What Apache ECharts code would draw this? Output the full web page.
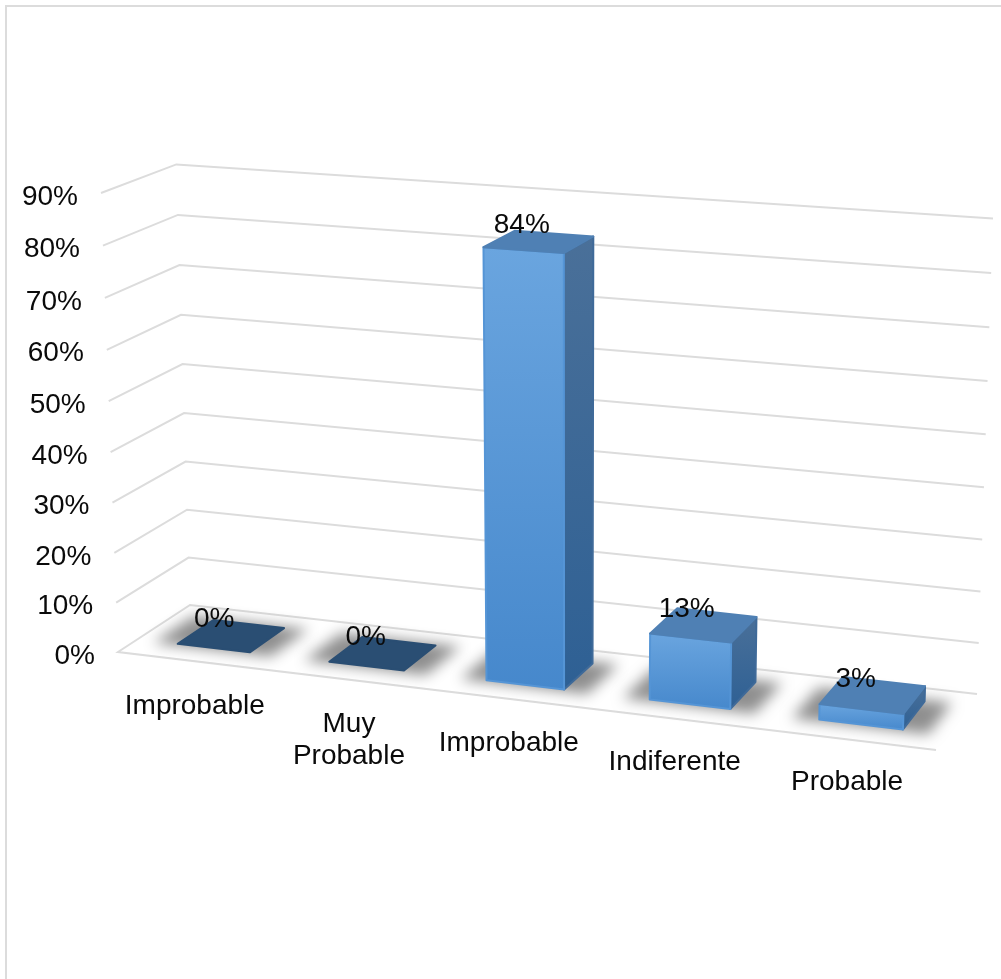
<!DOCTYPE html>
<html>
<head>
<meta charset="utf-8">
<style>html,body{margin:0;padding:0;background:#fff}#chart{width:1001px;height:979px}</style>
<script src="https://cdn.jsdelivr.net/npm/echarts@6/dist/echarts.min.js"></script>
</head>
<body>
<div id="chart"></div>
<script>
// Survey answers, percent of respondents
const categories = ['Improbable', 'Muy\nProbable', 'Improbable', 'Indiferente', 'Probable'];
const shares = [0, 0, 84, 13, 3];
const tickValues = [0, 10, 20, 30, 40, 50, 60, 70, 80, 90];

// Camera for the 3D box: floor quad [front-left, front-right, back-right, back-left],
// plus where the front-left and back-right corners land at the top of the value axis
const FLOOR = [[118, 652], [936, 750], [977, 694], [190, 605]];
const TOP_FRONT_LEFT = [101, 193];
const TOP_BACK_RIGHT_X = 993;
const RIGHT_SIDE_DROP = 5;

function buildCamera() {
  const [[x0, y0], [x1, y1], [x2, y2], [x3, y3]] = FLOOR;
  const dx1 = x1 - x2, dx2 = x3 - x2, dx3 = x0 - x1 + x2 - x3;
  const dy1 = y1 - y2, dy2 = y3 - y2, dy3 = y0 - y1 + y2 - y3;
  const den = dx1 * dy2 - dx2 * dy1;
  const g = (dx3 * dy2 - dx2 * dy3) / den;
  const h = (dx1 * dy3 - dx3 * dy1) / den;
  const a = x1 - x0 + g * x1, b = x3 - x0 + h * x3;
  const d = y1 - y0 + g * y1, e = y3 - y0 + h * y3;
  const [tx, ty] = TOP_FRONT_LEFT;
  const r = (a + b + tx - TOP_BACK_RIGHT_X * (g + h + 1)) / (TOP_BACK_RIGHT_X - tx);
  const p = tx * (1 + r) - x0, q = ty * (1 + r) - y0;
  return (u, w, t) => {
    const k = g * u + h * w + r * t + 1;
    return [(a * u + b * w + p * t + x0) / k, (d * u + e * w + q * t + y0) / k + RIGHT_SIDE_DROP * t * u];
  };
}
const project = buildCamera();

// Normalised position of a data point inside the hidden cartesian grid
function locate(params, api, category, value) {
  const r = params.coordSys;
  const c = api.coord([category, value]);
  return { u: (c[0] - r.x) / r.width, t: (r.y + r.height - c[1]) / r.height };
}

const TEXT_FONT = '28px "Liberation Sans", Arial, sans-serif';
const TEXT_COLOR = '#0a0a0a';
const BAR_HALF = 0.24;       // half bar width, as a share of the category band
const BAR_SHIFT = 0.002;
const BEVEL = 0.99;          // the rounded top edge stops just short of the full height
const DEPTH_NEAR = 0.265, DEPTH_FAR = 0.77;
const GRID_COLOR = '#dcdcdc';
const OFFSCREEN = 3000;      // only the blurred shadow of the floor patch reaches the canvas

function renderGridLine(params, api) {
  const v = api.value(1);
  const t = locate(params, api, 0, v).t;
  const pts = [project(0, 0, t), project(0, 1, t), project(1, 1, t)];
  if (v === 0) pts.unshift(project(1, 0, t));
  const fl = project(0, 0, t);
  return {
    type: 'group',
    children: [
      { type: 'polyline', shape: { points: pts }, style: { fill: null, stroke: GRID_COLOR, lineWidth: 2 } },
      { type: 'text', style: { text: v + '%', x: fl[0] - 23, y: fl[1] + 4, font: TEXT_FONT, fill: TEXT_COLOR, align: 'right', verticalAlign: 'middle' } }
    ]
  };
}

function renderBar(params, api) {
  const i = api.value(0), v = api.value(1);
  const loc = locate(params, api, i, v);
  const u = loc.u, t = loc.t * BEVEL;
  const bandU = api.size([1, 0])[0] / params.coordSys.width;
  const u0 = u + BAR_SHIFT - bandU * BAR_HALF, u1 = u + BAR_SHIFT + bandU * BAR_HALF;
  const P = project;
  const fl = P(u0, DEPTH_NEAR, 0), fr = P(u1, DEPTH_NEAR, 0), br = P(u1, DEPTH_FAR, 0);
  const tfl = P(u0, DEPTH_NEAR, t), tfr = P(u1, DEPTH_NEAR, t), tbr = P(u1, DEPTH_FAR, t), tbl = P(u0, DEPTH_FAR, t);
  const pad = 0.03;
  const shadowPts = [P(u0 - pad, DEPTH_NEAR - pad, 0), P(u1 + pad, DEPTH_NEAR - pad, 0), P(u1 + pad, DEPTH_FAR + pad, 0), P(u0 - pad, DEPTH_FAR + pad, 0)]
    .map(q => [q[0] - OFFSCREEN, q[1]]);
  const cx = (fl[0] + fr[0]) / 2, cy = (fl[1] + fr[1]) / 2;
  const topX = (tfl[0] + tfr[0] + tbr[0] + tbl[0]) / 4, topY = (tfl[1] + tfr[1] + tbr[1] + tbl[1]) / 4;
  const grad = (a, b) => new echarts.graphic.LinearGradient(0, 0, 0, 1, [{ offset: 0, color: a }, { offset: 1, color: b }]);
  const face = (pts, fill, edge) => ({
    type: 'polygon', shape: { points: pts },
    style: { fill: fill, stroke: edge, lineWidth: 2, lineJoin: 'round' }
  });
  const children = [{
    type: 'polygon', shape: { points: shadowPts },
    style: { fill: '#000', shadowBlur: 14, shadowColor: '#8f8f8f', shadowOffsetX: OFFSCREEN }
  }];
  if (v > 0) {
    children.push(face([fr, br, tbr, tfr], grad('#4a7099', '#2e6094'), '#3f6a99'));
    children.push(face([fl, fr, tfr, tfl], grad('#6aa5df', '#4688cc'), '#5595d6'));
    children.push(face([tfl, tfr, tbr, tbl], '#4f80b4', '#4f80b4'));
  } else {
    children.push(face([tfl, tfr, tbr, tbl], '#2a4e73', '#2a4e73'));
  }
  children.push({ type: 'text', style: { text: v + '%', x: topX - 17, y: topY - 16.5, font: TEXT_FONT, fill: TEXT_COLOR, align: 'center', verticalAlign: 'middle' } });
  children.push({ type: 'text', style: { text: categories[i], x: cx - 13.5 - 6 * (1 - u), y: cy + 42, font: TEXT_FONT, lineHeight: 32, fill: TEXT_COLOR, align: 'center', verticalAlign: 'top' } });
  return { type: 'group', children };
}

const chart = echarts.init(document.getElementById('chart'), null, { renderer: 'canvas' });
chart.setOption({
  animation: false,
  backgroundColor: '#fff',
  // The cartesian grid only supplies the scales; everything is projected from it
  grid: { left: 100, right: 100, top: 100, bottom: 100 },
  xAxis: { type: 'category', data: categories, show: false },
  yAxis: { type: 'value', min: 0, max: 90, interval: 10, show: false },
  graphic: [{
    type: 'rect', shape: { x: 6, y: 6, width: 1100, height: 1100 },
    style: { fill: null, stroke: '#dcdcdc', lineWidth: 2 }, silent: true
  }],
  series: [
    { type: 'custom', coordinateSystem: 'cartesian2d', silent: true, z: 1, renderItem: renderGridLine, data: tickValues.map(v => [0, v]), clip: false },
    { type: 'custom', coordinateSystem: 'cartesian2d', silent: true, z: 2, renderItem: renderBar, data: shares.map((v, i) => [i, v]), clip: false }
  ]
});
</script>
</body>
</html>
